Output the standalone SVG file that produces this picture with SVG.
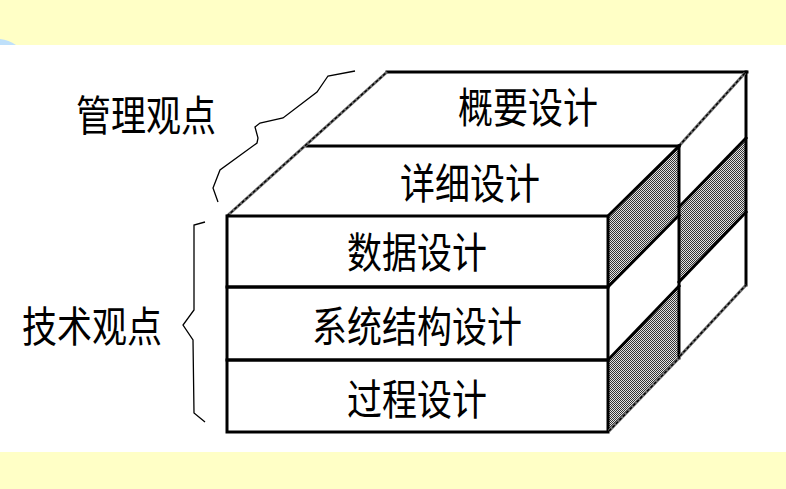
<svg xmlns="http://www.w3.org/2000/svg" width="786" height="489" viewBox="0 0 786 489">
<defs>
<pattern id="dots" width="2" height="2" patternUnits="userSpaceOnUse">
<rect width="2" height="2" fill="#e2e2e2"/>
<rect width="1" height="1" fill="#333"/>
<rect x="1" y="1" width="1" height="1" fill="#333"/>
</pattern>
</defs>
<style>
.band{fill:#FFFFC6}
.shade{fill:url(#dots);stroke:none}
.thick{stroke:#000;stroke-width:3;fill:none;stroke-linecap:square}
.tex{stroke:#6e6e6e;stroke-width:3;fill:none}
.texd{stroke:#000;stroke-width:1.4;fill:none;stroke-dasharray:3 2}
.thin{stroke:#000;stroke-width:1.3;fill:none;stroke-linejoin:miter}
.lbl{font-family:"Noto Sans CJK SC","Noto Sans CJK JP",sans-serif;font-size:35px;fill:#000;text-anchor:middle}
</style>
<rect width="786" height="489" fill="#fff"/>
<rect class="band" x="0" y="0" width="786" height="45"/>
<rect class="band" x="0" y="452" width="786" height="37"/>
<path d="M0,39 Q9,40 16,45 L0,45 Z" fill="#BFE0FA"/>

<g id="side-shading">
<polygon class="shade" points="608,216 679,146 679,215 608,287"/>
<polygon class="shade" points="608,360 679,286 679,358 608,432"/>
<polygon class="shade" points="679,207 746,138 746,212 679,282"/>
</g>

<g id="overview-design">
<line class="thick" x1="387" y1="72" x2="747" y2="72"/>
<line class="thick" x1="746" y1="72" x2="746" y2="285"/>
<line class="tex" x1="679" y1="146" x2="745" y2="73"/>
<line class="texd" x1="679" y1="146" x2="745" y2="73"/>
<g transform="translate(528,123) scale(1,1.2)"><text class="lbl" x="0" y="0">概要设计</text></g>
</g>

<g id="detail-design">
<line class="thick" x1="307" y1="146" x2="679" y2="146"/>
<line class="thick" x1="679" y1="146" x2="679" y2="358"/>
<line class="tex" x1="227" y1="216" x2="387" y2="72"/>
<line class="texd" x1="227" y1="216" x2="387" y2="72"/>
<g transform="translate(470,199) scale(1,1.2)"><text class="lbl" x="0" y="0">详细设计</text></g>
</g>

<g id="data-design">
<rect class="thick" x="227" y="216" width="381" height="71"/>
<line class="thick" x1="608" y1="216" x2="679" y2="146"/>
<line class="thick" x1="608" y1="287" x2="679" y2="215"/>
<line class="thick" x1="679" y1="207" x2="746" y2="138"/>
<g transform="translate(417,268) scale(1,1.2)"><text class="lbl" x="0" y="0">数据设计</text></g>
</g>

<g id="architecture-design">
<rect class="thick" x="227" y="287" width="381" height="73"/>
<line class="thick" x1="608" y1="360" x2="679" y2="286"/>
<line class="thick" x1="679" y1="282" x2="746" y2="212"/>
<g transform="translate(417,342) scale(1,1.2)"><text class="lbl" x="0" y="0">系统结构设计</text></g>
</g>

<g id="procedure-design">
<rect class="thick" x="227" y="360" width="381" height="72"/>
<line class="tex" x1="609" y1="431" x2="679" y2="358"/>
<line class="texd" x1="609" y1="431" x2="679" y2="358"/>
<line class="tex" x1="680" y1="356" x2="746" y2="285"/>
<line class="texd" x1="680" y1="356" x2="746" y2="285"/>
<g transform="translate(417,415) scale(1,1.2)"><text class="lbl" x="0" y="0">过程设计</text></g>
</g>

<g id="management-view">
<g transform="translate(146,131) scale(1,1.2)"><text class="lbl" x="0" y="0">管理观点</text></g>
</g>
<g id="technical-view">
<g transform="translate(92,342) scale(1,1.2)"><text class="lbl" x="0" y="0">技术观点</text></g>
</g>

<g id="connectors">
<polyline class="thin" points="355,71 328,76 317,92 283,118 260,123 255,127 258,138 257,143 220,170 213,188 218,202"/>
<polyline class="thin" points="205,222 194,225 194,310 183,325 193,340 194,413 205,422"/>
</g>
</svg>
